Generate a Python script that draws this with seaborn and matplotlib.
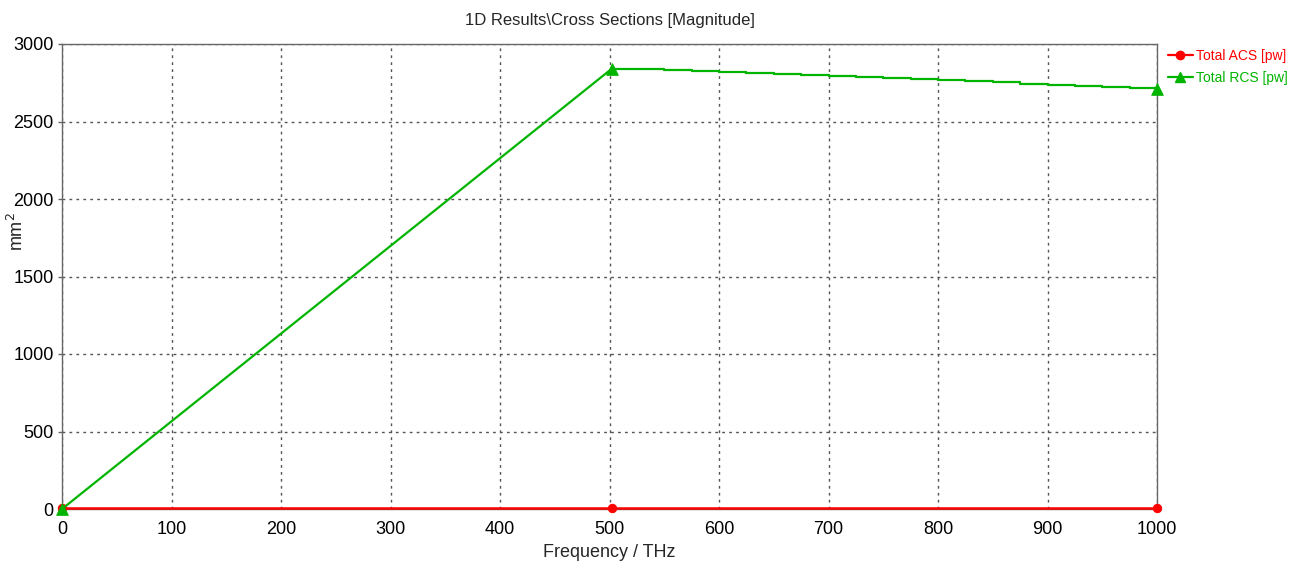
import matplotlib
matplotlib.use("Agg")
import matplotlib.pyplot as plt
import seaborn as sns
import pandas as pd

# ---- data ----
acs_freq = [0, 502, 1000]
acs_vals = [5, 5, 5]

rcs_rise_freq = [0, 502]
rcs_rise_vals = [0, 2840]

rcs_tail_freq = [502, 525, 550, 575, 600, 625, 650, 675, 700, 725, 750,
                 775, 800, 825, 850, 875, 900, 925, 950, 975, 1000]
rcs_tail_vals = [2840, 2836, 2830, 2824, 2818, 2812, 2805, 2799, 2792, 2786, 2779,
                 2772, 2766, 2759, 2752, 2745, 2738, 2731, 2724, 2717, 2710]

rcs_marker_freq = [0, 502, 1000]
rcs_marker_vals = [0, 2840, 2710]

xticks = [0, 100, 200, 300, 400, 500, 600, 700, 800, 900, 1000]
yticks = [0, 500, 1000, 1500, 2000, 2500, 3000]

sns.set_theme(style="white")
plt.rcParams['font.family'] = ['Liberation Sans', 'DejaVu Sans']

RED = "#ff0000"
GREEN = "#00b400"

fig = plt.figure(figsize=(12.91, 5.62), dpi=100)
ax = fig.add_axes([62/1291, 1-509/562, (1157-62)/1291, (509-44)/562])

df_acs = pd.DataFrame({"f": acs_freq, "v": acs_vals})
df_rise = pd.DataFrame({"f": rcs_rise_freq, "v": rcs_rise_vals})
df_tail = pd.DataFrame({"f": rcs_tail_freq, "v": rcs_tail_vals})
df_mk = pd.DataFrame({"f": rcs_marker_freq, "v": rcs_marker_vals})

sns.lineplot(data=df_acs, x="f", y="v", ax=ax, color=RED, lw=1.8,
             marker="o", markersize=6, markeredgecolor=RED, zorder=3,
             clip_on=False)
sns.lineplot(data=df_rise, x="f", y="v", ax=ax, color=GREEN, lw=1.6, zorder=4)
sns.lineplot(data=df_tail, x="f", y="v", ax=ax, color=GREEN, lw=1.6,
             drawstyle="steps-post", zorder=4)
sns.scatterplot(data=df_mk, x="f", y="v", ax=ax, color=GREEN, marker="^",
                s=70, edgecolor=GREEN, zorder=5, clip_on=False)

ax.set_xlim(0, 1000)
ax.set_ylim(0, 3000)
ax.set_xticks(xticks)
ax.set_yticks(yticks)
ax.tick_params(axis="y", labelsize=13, length=3, width=1, color="#666666",
               left=True, pad=3, colors="black")
ax.tick_params(axis="y", color="#666666")
ax.tick_params(axis="x", labelsize=13, length=0, pad=9, colors="black")
ax.grid(True, color="#555555", linestyle=(0, (2, 3)), lw=1.0)
for s in ax.spines.values():
    s.set_color("#666666")
    s.set_linewidth(1.0)

ax.set_xlabel("Frequency / THz", fontsize=13, labelpad=4)
ax.set_ylabel("mm$^2$", fontsize=13)
ax.yaxis.set_label_coords((27-62)/1095, 0.596)
ax.set_title("1D Results\\Cross Sections [Magnitude]", fontsize=12, pad=14)

# legend outside right
from matplotlib.lines import Line2D
handles = [
    Line2D([0], [0], color=RED, lw=1.6, marker="o", markersize=6),
    Line2D([0], [0], color=GREEN, lw=1.6, marker="^", markersize=7),
]
leg = fig.legend(handles, ["Total ACS [pw]", "Total RCS [pw]"],
                 loc="upper left", bbox_to_anchor=(1165/1291, 1-46/562),
                 frameon=False, handlelength=1.8,
                 handletextpad=0.2, labelspacing=0.6, borderaxespad=0,
                 borderpad=0.2, prop={'family': ['Liberation Sans', 'DejaVu Sans'], 'size': 10})
for t, c in zip(leg.get_texts(), [RED, GREEN]):
    t.set_color(c)

fig.savefig("out.png", dpi=100)
